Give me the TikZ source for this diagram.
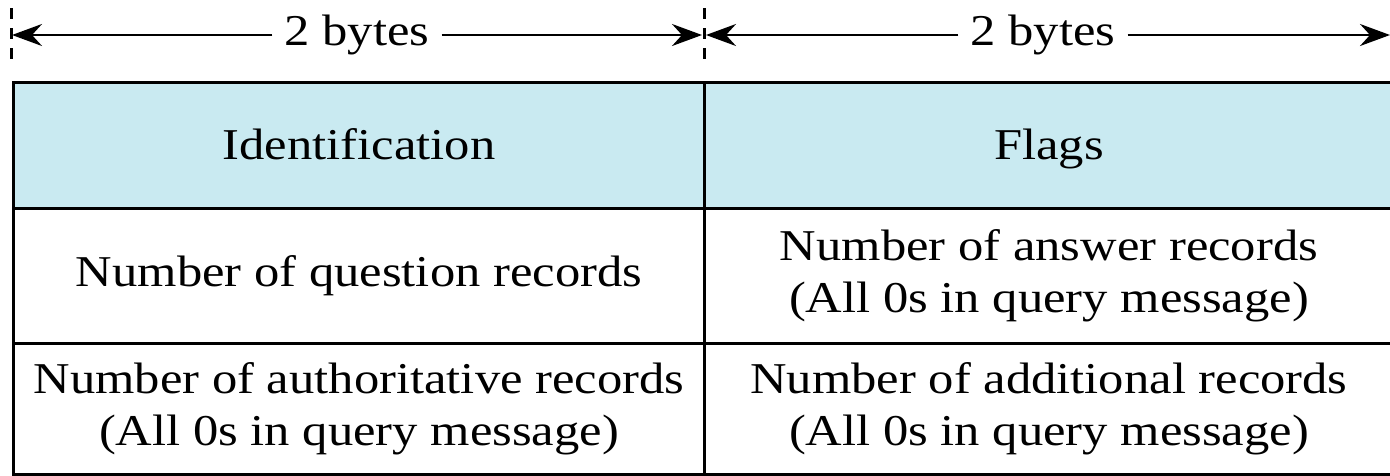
\documentclass[tikz,border=0pt]{standalone}
\usepackage{fontspec}
\setmainfont[FakeStretch=1.15]{Liberation Serif}
\usetikzlibrary{arrows.meta}
\definecolor{headfill}{RGB}{201,234,241}
\tikzset{
  cell/.style={draw=black, line width=3pt, anchor=north west, inner sep=0pt,
    align=center, font=\fontsize{44}{52}\selectfont},
  headcell/.style={cell, fill=headfill, text height=34pt, text depth=6pt},
  span/.style={line width=2.5pt, -{Stealth[length=30pt, width=22pt, inset=10pt]}},
  spanlabel/.style={fill=white, inner xsep=12pt, inner ysep=2pt,
    font=\fontsize{44}{52}\selectfont},
  marker/.style={line width=3pt, dash pattern=on 11pt off 9pt}
}
\begin{document}
\begin{tikzpicture}[x=1pt, y=-1pt]
  \useasboundingbox (0,0) rectangle (1390,475);
  \fill[white] (0,0) rectangle (1390,475);

  % header row
  \node[headcell, minimum width=691pt, minimum height=126pt] (id) at (12,81) {Identification};
  \node[headcell, minimum width=689pt, minimum height=126pt] (flags) at (703,81) {Flags};
  % second row
  \node[cell, minimum width=691pt, minimum height=135pt] (qd) at (12,207) {Number of question records};
  \node[cell, minimum width=689pt, minimum height=135pt] (an) at (703,207)
    {Number of answer records\\(All 0s in query message)};
  % third row
  \node[cell, minimum width=691pt, minimum height=131pt] (ns) at (12,342)
    {Number of authoritative records\\(All 0s in query message)};
  \node[cell, minimum width=689pt, minimum height=131pt] (ar) at (703,342)
    {Number of additional records\\(All 0s in query message)};

  % field boundaries above the table
  \coordinate (b0top) at (11,8);  \coordinate (b0bot) at (11,64);
  \coordinate (b1top) at (704,8); \coordinate (b1bot) at (704,64);
  \draw[marker] (b0top) -- (b0bot);
  \draw[marker] (b1top) -- (b1bot);

  % width arrows
  \coordinate (l0) at (12,35);
  \coordinate (l1) at (702,35);
  \coordinate (r0) at (706,35);
  \coordinate (r1) at (1390,35);
  \node[spanlabel] (w1) at (357,35) {2 bytes};
  \node[spanlabel] (w2) at (1043,35) {2 bytes};
  \draw[span] (w1.west) -- (l0);
  \draw[span] (w1.east) -- (l1);
  \draw[span] (w2.west) -- (r0);
  \draw[span] (w2.east) -- (r1);
\end{tikzpicture}
\end{document}
